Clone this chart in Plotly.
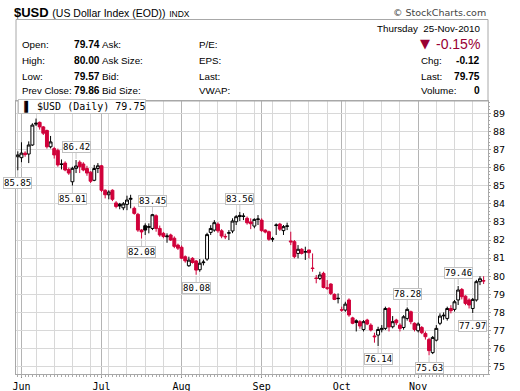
import plotly.graph_objects as go
import pandas as pd
import numpy as np

# ---------------- data ----------------
dates = pd.bdate_range("2010-05-31", "2010-11-25")

opens = [86.60, 86.55, 86.80, 86.75, 87.25, 88.40, 88.50, 88.25, 88.05, 87.15,
         87.05, 86.95, 86.20, 86.25, 85.90, 85.22, 85.96, 86.30, 86.20, 85.95,
         85.75, 85.30, 85.95, 86.10, 84.75, 84.50, 84.75, 84.05, 83.98, 83.78,
         83.97, 84.25, 83.75, 83.42, 82.55, 82.79, 82.70, 82.64, 83.34, 82.64,
         82.37, 82.18, 82.28, 82.10, 81.72, 81.60, 81.08, 80.58, 80.99, 80.84,
         80.36, 80.75, 80.95, 82.42, 82.55, 82.88, 82.51, 82.20, 82.38, 82.50,
         83.01, 83.36, 83.30, 83.20, 83.00, 82.77, 83.14, 83.10, 82.55, 82.46,
         82.05, 82.80, 82.88, 82.52, 82.75, 81.95, 81.91, 81.26, 81.49, 81.33,
         81.45, 80.45, 79.90, 79.88, 80.16, 79.36, 79.57, 79.00, 78.76, 78.15,
         78.13, 78.69, 77.70, 77.54, 77.49, 77.06, 77.58, 77.30, 76.70, 76.75,
         77.05, 77.12, 78.22, 77.21, 77.58, 77.30, 77.17, 77.67, 78.04, 77.40,
         76.99, 77.17, 76.84, 76.51, 75.78, 76.47, 77.40, 77.85, 77.67, 78.22,
         78.17, 78.69, 79.27, 78.90, 78.69, 78.22, 78.69, 79.70, 79.74]
highs = [86.90, 87.40, 86.90, 87.45, 88.45, 88.71, 88.55, 88.30, 88.10, 87.75,
         87.15, 87.05, 86.45, 86.35, 86.00, 86.05, 86.42, 86.40, 86.30, 86.10,
         85.80, 86.15, 86.25, 86.15, 84.80, 84.75, 84.80, 84.15, 84.05, 84.10,
         84.45, 84.50, 83.85, 83.50, 82.60, 82.92, 82.92, 83.45, 83.42, 82.80,
         82.45, 82.37, 82.35, 82.20, 81.80, 81.70, 81.15, 81.08, 81.05, 80.90,
         80.95, 80.92, 82.40, 82.82, 83.10, 82.98, 82.60, 82.35, 82.55, 83.20,
         83.38, 83.56, 83.48, 83.30, 83.20, 83.20, 83.38, 83.20, 82.59, 82.52,
         82.18, 82.92, 82.95, 82.83, 82.96, 82.46, 82.00, 81.72, 81.55, 81.63,
         81.46, 81.26, 80.07, 80.25, 80.25, 79.79, 79.61, 79.05, 79.05, 78.32,
         78.59, 78.78, 77.76, 77.62, 77.58, 77.58, 77.65, 77.40, 76.88, 77.21,
         77.30, 78.32, 78.30, 77.80, 77.65, 77.40, 77.85, 78.28, 78.10, 77.45,
         77.45, 77.25, 76.95, 76.60, 76.70, 77.30, 77.95, 78.00, 78.32, 78.40,
         78.69, 79.46, 79.35, 78.95, 78.78, 78.80, 79.80, 80.00, 80.00]
lows = [85.85, 86.30, 86.60, 86.25, 87.20, 88.30, 88.10, 87.80, 87.05, 87.06,
        86.50, 86.05, 85.90, 85.80, 85.60, 85.01, 85.70, 85.70, 85.80, 85.55,
        85.15, 85.25, 85.70, 84.65, 84.30, 84.25, 84.15, 83.75, 83.70, 83.65,
        83.65, 83.75, 83.40, 82.45, 82.08, 82.28, 82.37, 82.55, 82.46, 82.18,
        82.10, 81.85, 81.95, 81.55, 81.45, 80.95, 80.75, 80.52, 80.70, 80.08,
        80.25, 80.60, 80.85, 82.28, 82.46, 82.40, 82.10, 82.05, 82.00, 82.38,
        82.83, 83.05, 83.10, 82.85, 82.60, 82.65, 82.83, 82.45, 82.37, 81.96,
        81.90, 82.28, 82.50, 82.28, 82.55, 81.72, 80.99, 80.99, 81.20, 80.90,
        80.99, 80.25, 79.61, 79.79, 79.33, 79.24, 78.96, 78.68, 78.50, 78.04,
        78.04, 77.76, 77.35, 76.95, 77.10, 76.95, 77.30, 76.95, 76.33, 76.14,
        76.90, 77.03, 76.95, 77.12, 77.30, 76.95, 77.05, 77.55, 77.35, 76.95,
        76.90, 76.80, 76.50, 75.63, 75.70, 76.40, 77.30, 77.60, 77.55, 77.95,
        78.05, 78.41, 78.72, 78.40, 78.22, 77.97, 78.60, 79.51, 79.57]
closes = [86.70, 86.80, 86.72, 87.25, 88.35, 88.45, 88.25, 87.90, 87.15, 87.42,
          86.70, 86.15, 86.18, 85.87, 85.70, 85.96, 86.09, 86.05, 85.87, 85.70,
          85.25, 85.95, 86.10, 84.75, 84.50, 84.65, 84.25, 83.85, 83.88, 84.00,
          84.21, 84.30, 83.47, 82.55, 82.45, 82.55, 82.74, 83.40, 82.64, 82.28,
          82.20, 82.22, 82.00, 81.65, 81.55, 81.00, 80.85, 80.89, 80.76, 80.34,
          80.72, 80.78, 82.30, 82.64, 82.96, 82.51, 82.22, 82.18, 82.40, 83.05,
          83.29, 83.30, 83.32, 82.95, 82.90, 83.14, 83.16, 82.52, 82.44, 82.04,
          82.07, 82.83, 82.60, 82.74, 82.78, 81.90, 81.08, 81.49, 81.26, 81.36,
          81.30, 80.43, 79.88, 80.07, 79.38, 79.34, 79.05, 78.72, 78.78, 78.13,
          78.46, 77.86, 77.40, 77.45, 77.25, 77.49, 77.36, 77.03, 76.66, 77.06,
          77.12, 78.22, 77.20, 77.49, 77.43, 77.12, 77.76, 78.17, 77.49, 77.06,
          77.36, 76.88, 76.66, 75.89, 76.62, 77.12, 77.80, 77.82, 78.22, 78.10,
          78.59, 79.24, 78.87, 78.50, 78.41, 78.72, 79.70, 79.86, 79.75]

# swing labels: (index of bar, 'H' = high above, 'L' = low below)
swing_points = [(0, "L"), (15, "L"), (16, "H"), (34, "L"), (37, "H"), (49, "L"),
                (61, "H"), (99, "L"), (107, "H"), (113, "L"), (121, "H"), (125, "L")]

y_ticks = list(range(75, 90))

quote_left = [("Open:", "79.74", "Ask:", "P/E:"),
              ("High:", "80.00", "Ask Size:", "EPS:"),
              ("Low:", "79.57", "Bid:", "Last:"),
              ("Prev Close:", "79.86", "Bid Size:", "VWAP:")]
quote_right = [("Chg:", "-0.12"), ("Last:", "79.75"), ("Volume:", "0")]
quote_day = "Thursday  25-Nov-2010"
quote_pct = "-0.15%"

# ---------------- styling ----------------
RED = "#d0003a"
BLACK = "#000000"
GRID = "#d8d8d8"
MONTH_GRID = "#b4b4b4"
BORDER = "#a8a8a8"

W, H = 520, 391
PX0, PX1, PY0, PY1 = 16, 488, 101, 374


def px(x):
    return (x - PX0) / (PX1 - PX0)


def py(y):
    return (PY1 - y) / (PY1 - PY0)


n = len(dates)
xs = np.arange(n)
o = np.array(opens); h = np.array(highs); l = np.array(lows); c = np.array(closes)
prev = np.concatenate([[c[0] - 1], c[:-1]])
is_red = c < prev

fig = go.Figure()
# invisible trace to activate the daily-tick overlay axis
fig.add_trace(go.Scatter(x=[0], y=[80], xaxis="x2", mode="markers",
                         marker=dict(opacity=0), showlegend=False, hoverinfo="skip"))
for mask, col in [(~is_red, BLACK), (is_red, RED)]:
    fig.add_trace(go.Candlestick(
        x=xs[mask], open=o[mask], high=h[mask], low=l[mask], close=c[mask],
        increasing=dict(line=dict(color=col, width=1), fillcolor="white"),
        decreasing=dict(line=dict(color=col, width=1), fillcolor=col),
        whiskerwidth=0, showlegend=False, hoverinfo="skip",
    ))

month_idx = [i for i in range(1, n) if dates[i].month != dates[i - 1].month]
month_txt = [dates[i].strftime("%b") for i in month_idx]
monday_idx = [i for i in range(n) if dates[i].dayofweek == 0 and i not in month_idx]

annotations = []
for i, kind in swing_points:
    val = highs[i] if kind == "H" else lows[i]
    annotations.append(dict(
        x=i, y=val, xref="x", yref="y", text=f"{val:.2f}",
        showarrow=True, arrowhead=0, arrowwidth=1, arrowcolor="#c8c8c8",
        ax=0, ay=-13 if kind == "H" else 13, standoff=1,
        bgcolor="white", bordercolor="#c0c0c0", borderwidth=1, borderpad=0,
        font=dict(family="DejaVu Sans Mono", size=9, color="black"),
    ))

annotations.append(dict(
    x=px(18), y=py(106.5), xref="paper", yref="paper", xanchor="left", yanchor="middle",
    text="\u2595\u258c $USD (Daily) 79.75", showarrow=False, bgcolor="white",
    bordercolor="#c0c0c0", borderwidth=1, borderpad=0,
    font=dict(family="DejaVu Sans Mono", size=10, color="black"),
))

HF = "Liberation Sans"
LS = 9.8
VS = 10.2


def txt(x, y, text, anchor="left", size=LS, color="black", family=HF):
    annotations.append(dict(x=px(x), y=py(y), xref="paper", yref="paper", xanchor=anchor,
                            yanchor="middle", showarrow=False, text=text,
                            font=dict(family=family, size=size, color=color)))


txt(12, 12, "<b>$USD</b> <span style='font-size:10.5px'>(US Dollar Index (EOD))</span>"
            " <span style='font-size:8.5px'>INDX</span>", size=13)
txt(488, 12, "\u00a9 StockCharts.com", anchor="right", size=9.5, color="#444444",
    family="DejaVu Sans")

rows_y = [44, 60, 76, 91]
for (lab, val, lab2, lab3), yy in zip(quote_left, rows_y):
    txt(20, yy, lab, size=9.6 if len(lab) > 6 else LS)
    txt(71.5, yy, f"<b>{val}</b>", size=VS)
    txt(100, yy, lab2)
    txt(197, yy, lab3)

txt(482, 28, quote_day, anchor="right")
txt(418, 43.5, "\u25bc", size=13, color="#990033", family="DejaVu Sans")
txt(482, 43.5, quote_pct, anchor="right", size=14, color="#990033")
for (lab, val), yy in zip(quote_right, rows_y[1:]):
    txt(419, yy, lab)
    txt(482, yy, f"<b>{val}</b>", anchor="right", size=VS)

shapes = [dict(type="rect", xref="paper", yref="paper", x0=0, x1=1, y0=1, y1=py(19.5),
               line=dict(color=BORDER, width=1), fillcolor="rgba(0,0,0,0)", layer="above")]

fig.update_layout(
    width=W, height=H, autosize=False,
    margin=dict(l=PX0, r=W - PX1, t=PY0, b=H - PY1, pad=0, autoexpand=False),
    paper_bgcolor="white", plot_bgcolor="white",
    boxgap=0.2, boxgroupgap=0, boxmode="overlay",
    xaxis=dict(range=[-0.5, 129.2], tickmode="array", tickvals=month_idx, ticktext=month_txt,
               showgrid=True, gridcolor=MONTH_GRID, gridwidth=1, zeroline=False,
               showline=True, mirror=True, linecolor=BORDER, linewidth=1,
               ticks="outside", ticklen=3, tickcolor="#888888", automargin=False,
               minor=dict(tickmode="array", tickvals=monday_idx, ticks="",
                          showgrid=True, gridcolor=GRID, gridwidth=1),
               rangeslider=dict(visible=False),
               tickfont=dict(family="DejaVu Sans Mono", size=10, color="black"),
               fixedrange=True),
    xaxis2=dict(range=[-0.5, 129.2], overlaying="x", matches="x", anchor="y", side="bottom",
                tickmode="array", tickvals=list(xs), showticklabels=False,
                ticks="outside", ticklen=2, tickcolor="#aaaaaa", showgrid=False,
                zeroline=False, showline=False, automargin=False),
    yaxis=dict(range=[74.6, 89.68], side="right", tickmode="array", tickvals=y_ticks,
               showgrid=True, gridcolor=GRID, gridwidth=1, zeroline=False,
               showline=True, mirror=True, linecolor=BORDER, linewidth=1,
               ticks="outside", ticklen=2, tickcolor="#999999", automargin=False,
               minor=dict(tickmode="linear", tick0=75, dtick=0.2, ticks="outside", ticklen=1,
                          tickcolor="#aaaaaa", showgrid=False),
               tickfont=dict(family="DejaVu Sans", size=9.5, color="black"),
               fixedrange=True),
    annotations=annotations,
    shapes=shapes,
)

fig.write_html("out.html", config={"displayModeBar": False},
               post_script="document.body.style.margin='0';")
